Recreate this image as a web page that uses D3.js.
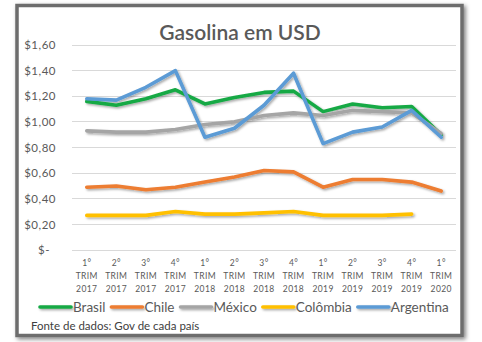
<!DOCTYPE html>
<html><head><meta charset="utf-8">
<script src="https://cdn.jsdelivr.net/npm/d3@7"></script>
<style>html,body{margin:0;padding:0;background:#fff;}svg{display:block;}</style>
</head><body>
<script>
const quarters = ["1°","2°","3°","4°","1°","2°","3°","4°","1°","2°","3°","4°","1°"];
const years = ["2017","2017","2017","2017","2018","2018","2018","2018","2019","2019","2019","2019","2020"];
const categories = quarters.map((q,i)=>q+" TRIM "+years[i]);
const brasil = [1.16,1.13,1.18,1.25,1.14,1.19,1.23,1.24,1.08,1.14,1.11,1.12,0.90];
const chile = [0.49,0.50,0.47,0.49,0.53,0.57,0.62,0.61,0.49,0.55,0.55,0.53,0.46];
const mexico = [0.93,0.92,0.92,0.94,0.98,1.00,1.05,1.07,1.05,1.09,1.08,1.07,0.91];
const colombia = [0.27,0.27,0.27,0.30,0.28,0.28,0.29,0.30,0.27,0.27,0.27,0.28];
const argentina = [1.18,1.17,1.27,1.40,0.88,0.95,1.13,1.38,0.83,0.92,0.96,1.09,0.88];
const seriesNames = ["Brasil","Chile","México","Colômbia","Argentina"];
const seriesColors = ["#17a945","#ed7d31","#a5a5a5","#ffc000","#5b9bd5"];
const yTicks = [0,0.2,0.4,0.6,0.8,1.0,1.2,1.4,1.6];
const seriesData = [brasil, chile, mexico, colombia, argentina];

const W=482,H=342;
const svg=d3.select("body").append("svg").attr("width",W).attr("height",H);
const defs=svg.append("defs");
const f=defs.append("filter").attr("id","sh").attr("filterUnits","userSpaceOnUse")
  .attr("x",0).attr("y",0).attr("width",W).attr("height",H);
f.append("feDropShadow").attr("dx",1.5).attr("dy",1.5).attr("stdDeviation",1.2).attr("flood-color","#000").attr("flood-opacity",0.35);
const fb=defs.append("filter").attr("id","bsh").attr("x","-5%").attr("y","-5%").attr("width","110%").attr("height","110%");
fb.append("feDropShadow").attr("dx",2).attr("dy",2).attr("stdDeviation",2).attr("flood-color","#000").attr("flood-opacity",0.5);

// frame
svg.append("rect").attr("x",17).attr("y",5.5).attr("width",445).attr("height",330)
  .attr("fill","#fff").attr("stroke","#6d6d6d").attr("stroke-width",3.5).attr("filter","url(#bsh)");

const font="Lato, 'Open Sans', sans-serif";
const x=d3.scalePoint().domain(d3.range(categories.length)).range([72,456]).padding(0.5);
const y=d3.scaleLinear().domain([0,1.6]).range([250,45]);

// grid
svg.append("g").selectAll("line").data(yTicks).join("line")
  .attr("x1",72).attr("x2",456).attr("y1",d=>y(d)).attr("y2",d=>y(d))
  .attr("stroke","#d9d9d9").attr("stroke-width",1).attr("shape-rendering","crispEdges");

// y labels
const fmt=d=> d===0 ? "$-" : "$"+d.toFixed(2).replace(".",",");
const yAxis=d3.axisLeft(y).tickValues(yTicks).tickFormat(fmt).tickSize(0).tickPadding(0);
const ya=svg.append("g").attr("transform","translate(56,0)").call(yAxis);
ya.select(".domain").remove();
ya.selectAll("text").attr("font-family",font).attr("font-size",11.5).attr("fill","#595959").attr("letter-spacing","0.5px");
ya.selectAll(".tick").filter(d=>d===0).select("text").attr("dx",-6);

// x labels
const xg=svg.append("g");
categories.forEach((c,i)=>{
  const t=xg.append("text").attr("x",x(i)).attr("text-anchor","middle").attr("font-family",font)
    .attr("font-size",8.5).attr("fill","#595959").attr("letter-spacing","0.4px");
  t.append("tspan").attr("x",x(i)).attr("y",266).text(quarters[i]);
  t.append("tspan").attr("x",x(i)).attr("y",279).text("TRIM");
  t.append("tspan").attr("x",x(i)).attr("y",292).text(years[i]);
});

// lines
const line=d3.line().x((d,i)=>x(i)).y(d=>y(d));
svg.append("g").attr("filter","url(#sh)").selectAll("path").data(seriesData).join("path")
  .attr("d",d=>line(d)).attr("fill","none").attr("stroke",(d,i)=>seriesColors[i])
  .attr("stroke-width",3.6).attr("stroke-linejoin","round").attr("stroke-linecap","round");

// title
svg.append("text").attr("x",240).attr("y",40).attr("text-anchor","middle").attr("font-family",font)
  .attr("font-size",21).attr("font-weight",600).attr("fill","#595959").text("Gasolina em USD");

// legend
const lg=svg.append("g").attr("filter","url(#sh)");
const lt=svg.append("g");
let lx=40;
seriesNames.forEach((n,i)=>{
  lg.append("line").attr("x1",lx).attr("x2",lx+31).attr("y1",307).attr("y2",307)
    .attr("stroke",seriesColors[i]).attr("stroke-width",3.6).attr("stroke-linecap","round");
  const t=lt.append("text").attr("x",lx+33).attr("y",312).attr("font-family",font).attr("font-size",13.5)
    .attr("fill","#595959").text(n);
  lx += 33 + t.node().getComputedTextLength() + 6;
});

// source
svg.append("text").attr("x",31).attr("y",330).attr("font-family",font).attr("font-size",11.5)
  .attr("fill","#404040").text("Fonte de dados: Gov de cada país");
</script>
</body></html>
